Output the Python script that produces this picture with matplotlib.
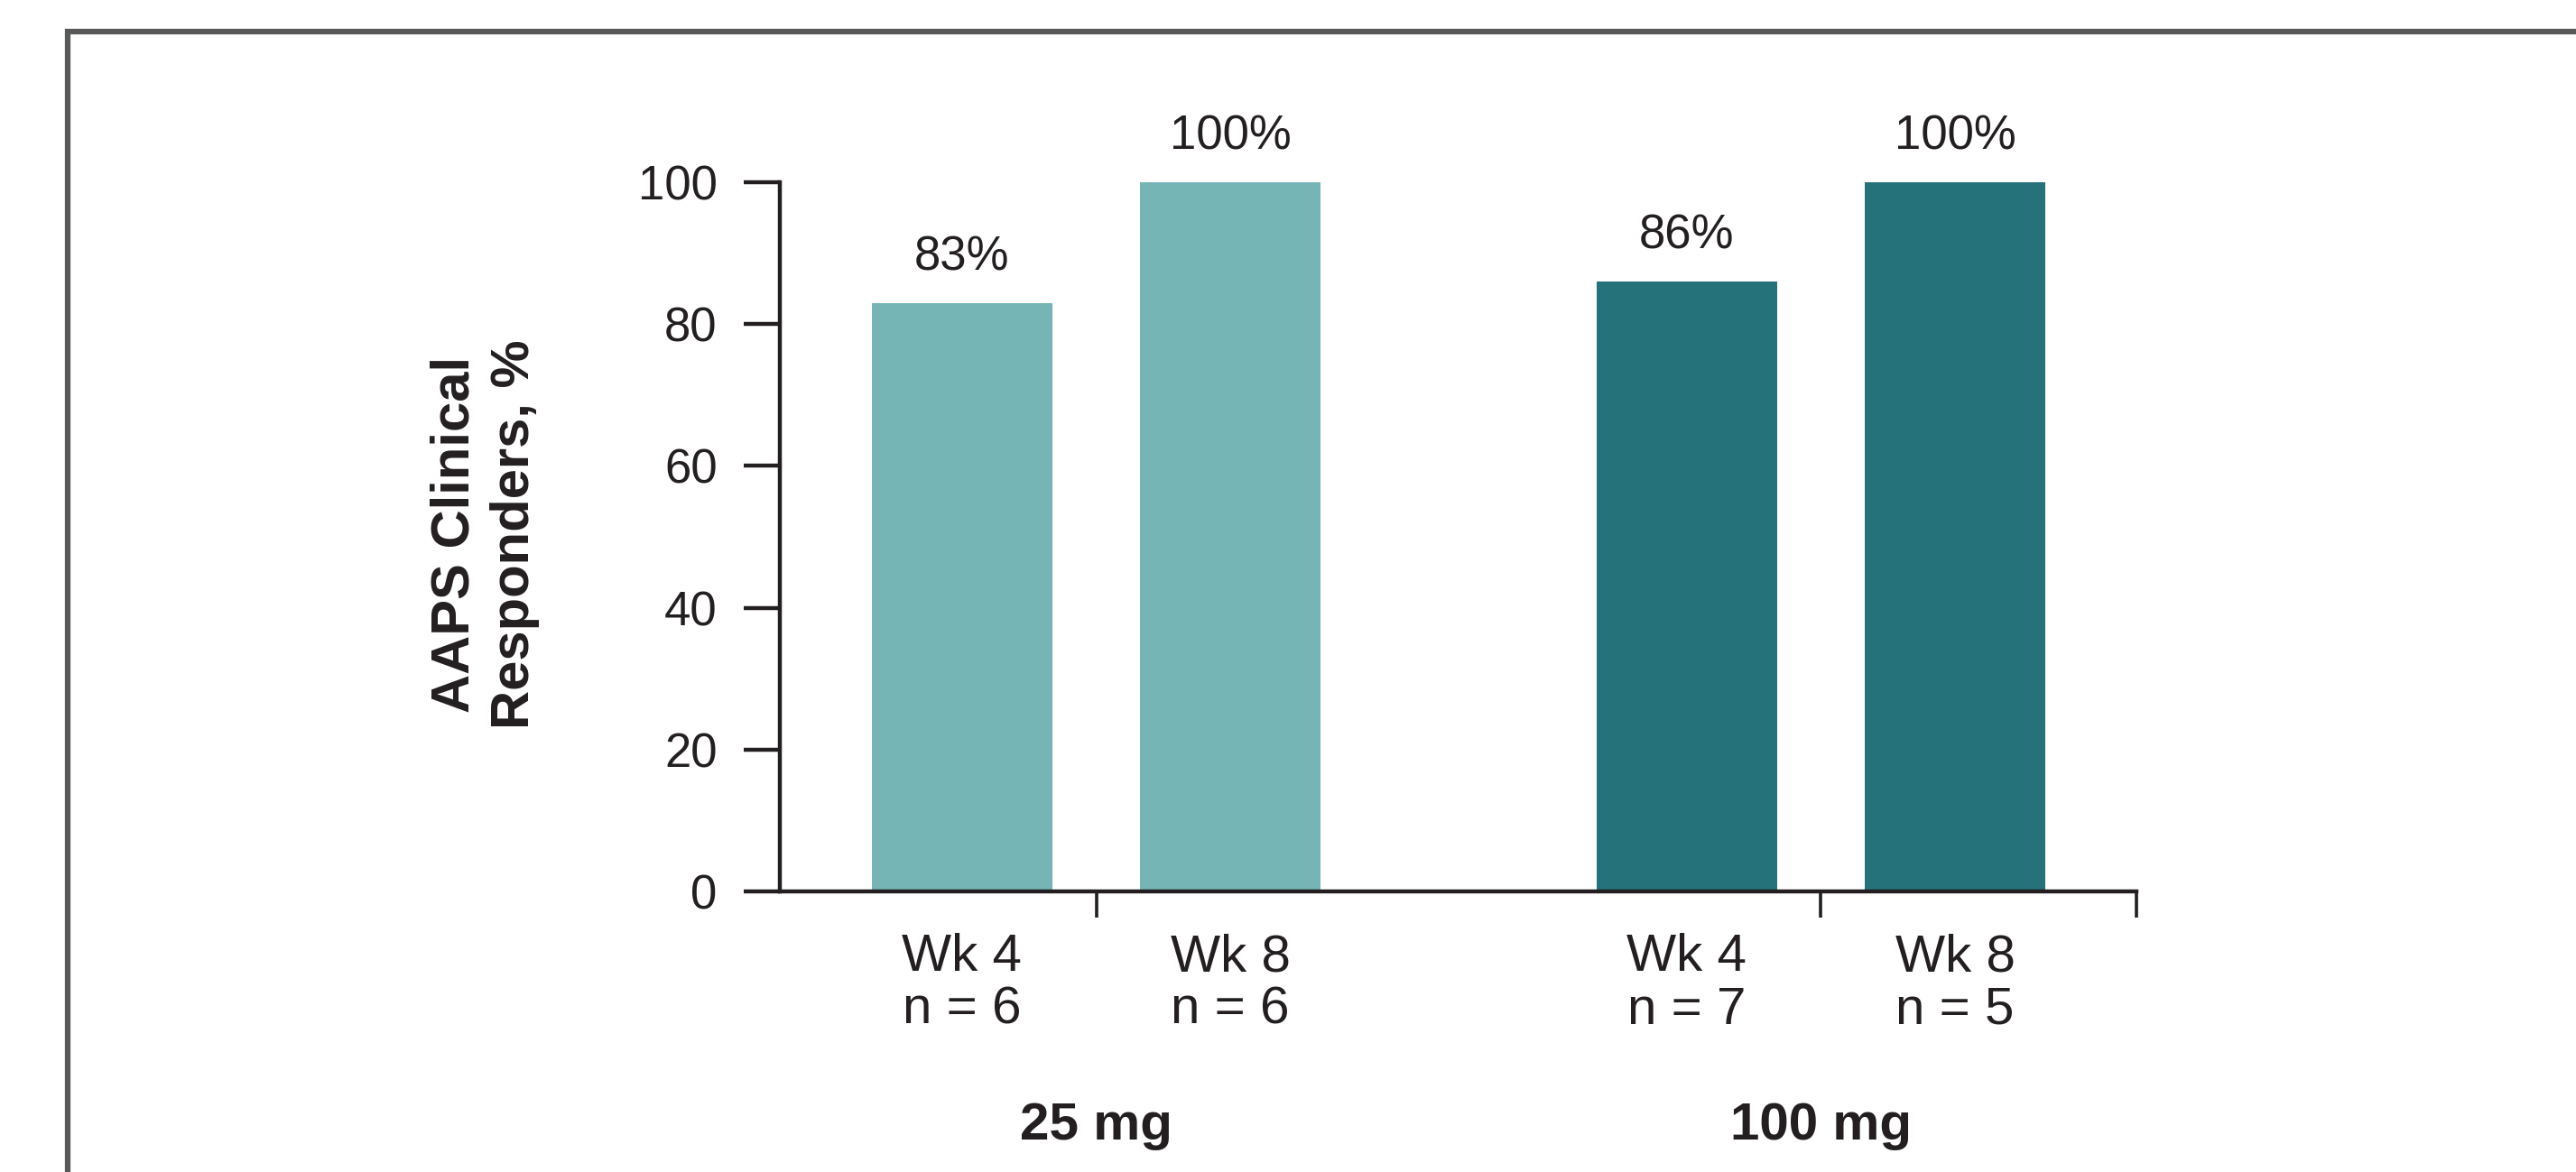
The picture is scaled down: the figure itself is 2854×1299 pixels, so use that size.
import matplotlib
matplotlib.use("Agg")
import matplotlib.pyplot as plt
from matplotlib.lines import Line2D

# data
groups = ["25 mg", "100 mg"]
weeks = ["Wk 4", "Wk 8", "Wk 4", "Wk 8"]
n_values = [6, 6, 7, 5]
responders = [83, 100, 86, 100]
positions = [0, 1, 2.7, 3.7]
bar_colors = ["#75b5b5", "#75b5b5", "#26727b", "#26727b"]

TXT = "#231f20"
plt.rcParams["font.family"] = ["Liberation Sans", "DejaVu Sans"]

W, H = 2854, 1299
fig = plt.figure(figsize=(W / 100, H / 100), dpi=100, facecolor="white")

# axes placed by pixel edges of the reference
x0, x1 = 864, 2367
y0, y1 = 988, 202
ax = fig.add_axes([x0 / W, 1 - y0 / H, (x1 - x0) / W, (y0 - y1) / H])

ax.bar(positions, responders, width=0.673, color=bar_colors, zorder=2)
ax.set_xlim(-0.679, 4.376)
ax.set_ylim(0, 100)

for s in ["top", "right"]:
    ax.spines[s].set_visible(False)
for s in ["left", "bottom"]:
    ax.spines[s].set_linewidth(3.2)
    ax.spines[s].set_color(TXT)

ax.set_yticks([0, 20, 40, 60, 80, 100])
ax.tick_params(axis="y", length=29, width=3.2, pad=21, labelsize=38,
               colors=TXT, direction="out")
ax.set_xticks([(positions[0] + positions[1]) / 2,
               (positions[2] + positions[3]) / 2, 4.376])
ax.set_xticklabels([])
ax.tick_params(axis="x", length=21, width=2.6, colors=TXT, direction="out")

# value labels
for x, v in zip(positions, responders):
    ax.annotate(f"{v}%", xy=(x, v), xytext=(0, 26), textcoords="offset points",
                ha="center", va="baseline", fontsize=38, color=TXT)

# category labels
for x, wk, n in zip(positions, weeks, n_values):
    ax.annotate(wk, xy=(x, 0), xycoords=("data", "axes fraction"),
                xytext=(0, -63.4), textcoords="offset points",
                ha="center", va="baseline", fontsize=42, color=TXT)
    ax.annotate(f"n = {n}", xy=(x, 0), xycoords=("data", "axes fraction"),
                xytext=(0, -105.8), textcoords="offset points",
                ha="center", va="baseline", fontsize=42, color=TXT)

# group labels
group_centers = [(positions[0] + positions[1]) / 2, (positions[2] + positions[3]) / 2]
for gx, g in zip(group_centers, groups):
    ax.annotate(g, xy=(gx, 0), xycoords=("data", "axes fraction"),
                xytext=(0, -198), textcoords="offset points",
                ha="center", va="baseline", fontsize=42, fontweight="bold",
                color=TXT)

fig.text(537 / W, 1 - 592 / H, "AAPS Clinical\nResponders, %", rotation=90,
         ha="center", va="center", fontsize=43, fontweight="bold", color=TXT,
         linespacing=1.27)

# open frame (left and top edges only)
fx, fy = 75 / W, 1 - 35 / H
fig.add_artist(Line2D([fx, fx, 1.01], [-0.01, fy, fy], transform=fig.transFigure,
                      color="#58595b", linewidth=4.5, solid_joinstyle="miter"))

fig.savefig("out.png", dpi=100, facecolor="white")
